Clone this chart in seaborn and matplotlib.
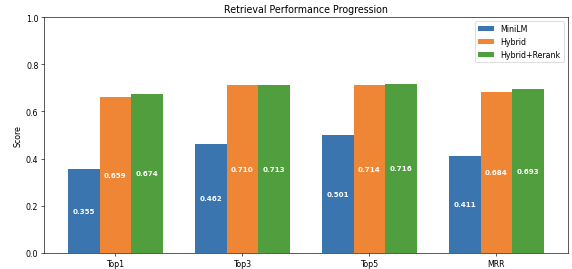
import pandas as pd
import matplotlib.pyplot as plt
import seaborn as sns

metrics = ["Top1", "Top3", "Top5", "MRR"]
models = ["MiniLM", "Hybrid", "Hybrid+Rerank"]
minilm = [0.355, 0.462, 0.501, 0.411]
hybrid = [0.659, 0.710, 0.714, 0.684]
rerank = [0.674, 0.713, 0.716, 0.693]
colors = ["#3b75af", "#ef8636", "#519e3e"]

rows = []
for model, vals in zip(models, [minilm, hybrid, rerank]):
    for m, v in zip(metrics, vals):
        rows.append({"metric": m, "model": model, "score": v})
df = pd.DataFrame(rows)

fig = plt.figure(figsize=(10, 4.72), dpi=57.2)
ax = fig.add_axes([0.0769, 0.0593, 0.916, 0.874])

sns.barplot(data=df, x="metric", y="score", hue="model", palette=colors,
            width=0.75, saturation=1, ax=ax)

for cont in ax.containers:
    ax.bar_label(cont, fmt="%.3f", label_type="center", color="white",
                 fontweight="bold", fontsize=9)

# back to matplotlib's default x margins
ax.autoscale(enable=True, axis="x")
ax.set_ylim(0, 1.0)
ax.set_xlabel("")
ax.set_ylabel("Score")
ax.set_title("Retrieval Performance Progression")
ax.legend(loc="upper right")

fig.savefig("out.png", dpi=57.2)
